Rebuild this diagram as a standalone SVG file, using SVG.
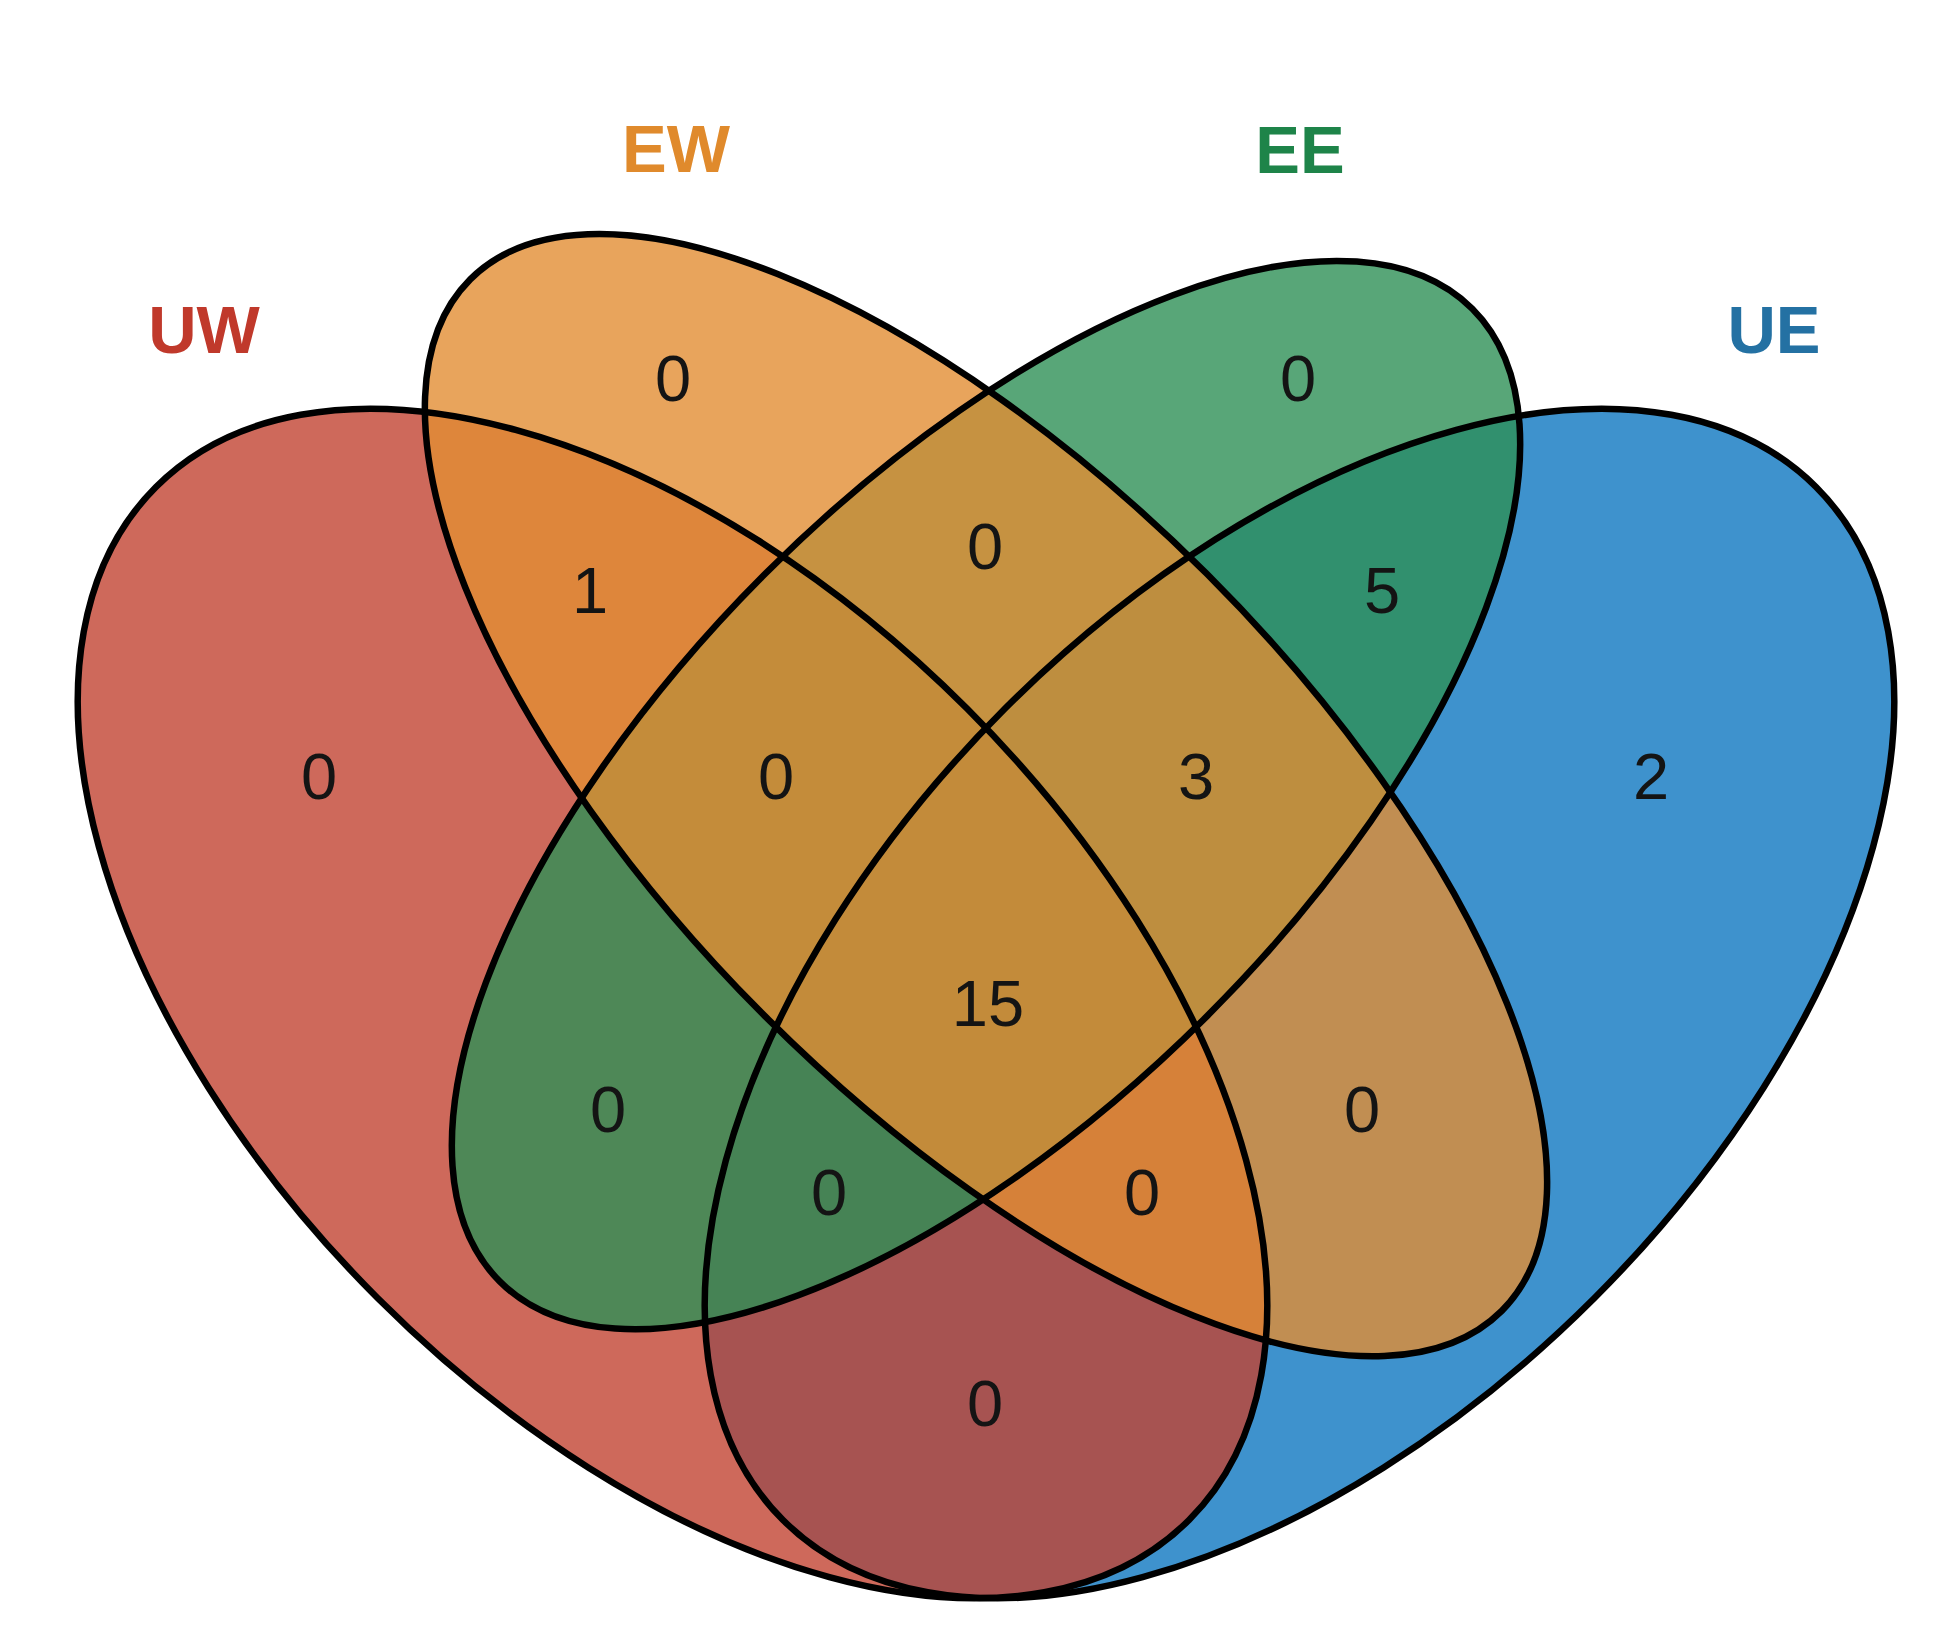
<svg xmlns="http://www.w3.org/2000/svg" xmlns:xlink="http://www.w3.org/1999/xlink" width="1947" height="1645" viewBox="0 0 1947 1645">
<style>
.fill{fill-opacity:0.8;stroke:none}
.outline{fill:none;stroke:#000;stroke-width:6.5}
.num{font-family:"Liberation Sans",Arial,sans-serif;font-size:65px;fill:#141414;text-anchor:middle}
.lab{font-family:"Liberation Sans",Arial,sans-serif;font-size:67px;font-weight:bold;text-anchor:middle}
</style>
<defs>
<ellipse id="eUE" cx="0" cy="0" rx="730.5" ry="416.8" transform="translate(1299.5,1003.5) rotate(-45)"/>
<ellipse id="eUW" cx="0" cy="0" rx="730.5" ry="416.8" transform="translate(672.5,1003.5) rotate(45)"/>
<ellipse id="eEE" cx="0" cy="0" rx="687.7" ry="312.6" transform="translate(986,795.1) rotate(-45)"/>
<ellipse id="eEW" cx="0" cy="0" rx="729.4" ry="312.6" transform="translate(986,795.1) rotate(45)"/>
</defs>
<rect width="1947" height="1645" fill="#fff"/>
<g id="set-UE">
<use xlink:href="#eUE" class="fill" fill="#0E77C0"/>
<text class="lab" x="1774" y="353" fill="#2471A3">UE</text>
</g>
<g id="set-UW">
<use xlink:href="#eUW" class="fill" fill="#C24332"/>
<text class="lab" x="204" y="353" fill="#C0392B">UW</text>
</g>
<g id="set-EE">
<use xlink:href="#eEE" class="fill" fill="#2E9056"/>
<text class="lab" x="1300" y="173" fill="#1E8449">EE</text>
</g>
<g id="set-EW">
<use xlink:href="#eEW" class="fill" fill="#E28D33"/>
<text class="lab" x="676" y="172" fill="#E08A2C">EW</text>
</g>
<g id="connectors">
<use xlink:href="#eUE" class="outline"/>
<use xlink:href="#eUW" class="outline"/>
<use xlink:href="#eEE" class="outline"/>
<use xlink:href="#eEW" class="outline"/>
</g>
<g id="counts">
<text class="num" x="673" y="401">0</text>
<text class="num" x="1298" y="401">0</text>
<text class="num" x="590" y="613">1</text>
<text class="num" x="985" y="569">0</text>
<text class="num" x="1382" y="613">5</text>
<text class="num" x="319" y="799">0</text>
<text class="num" x="776" y="799">0</text>
<text class="num" x="1196" y="799">3</text>
<text class="num" x="1651" y="799">2</text>
<text class="num" x="988" y="1026">15</text>
<text class="num" x="608" y="1132">0</text>
<text class="num" x="1362" y="1132">0</text>
<text class="num" x="829" y="1215">0</text>
<text class="num" x="1142" y="1215">0</text>
<text class="num" x="985" y="1426">0</text>
</g>
</svg>
